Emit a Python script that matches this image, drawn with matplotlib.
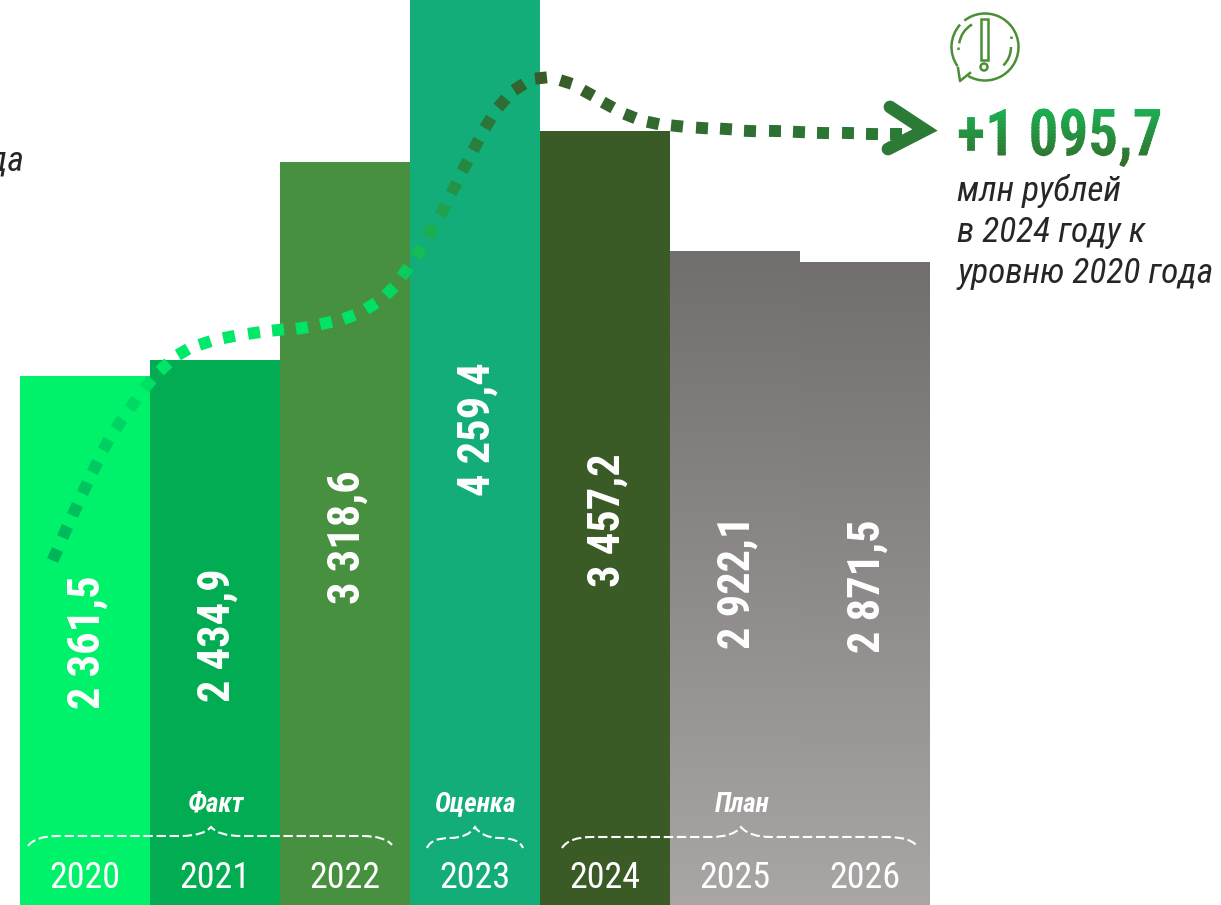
import numpy as np
import matplotlib
matplotlib.use("Agg")
import matplotlib.pyplot as plt
import matplotlib.patheffects as pe
from matplotlib.path import Path
from matplotlib.transforms import Bbox, Affine2D
from matplotlib.colors import LinearSegmentedColormap, to_rgb
from matplotlib.patches import Rectangle, Circle, Arc, PathPatch

FONT = 'Roboto Condensed'

years = ['2020', '2021', '2022', '2023', '2024', '2025', '2026']
values = [2361.5, 2434.9, 3318.6, 4259.4, 3457.2, 2922.1, 2871.5]
value_labels = ['2 361,5', '2 434,9', '3 318,6', '4 259,4', '3 457,2', '2 922,1', '2 871,5']
bar_colors = ['#00f26a', '#02ac52', '#47903f', '#12ad78', '#3a5a26', None, None]
gray_top, gray_bottom = '#726e6d', '#aaa6a5'

groups = ['Факт', 'Оценка', 'План']

# trend line (page pixels)
curve_x = [55, 65, 75, 85, 95, 106, 119, 133, 148, 164, 183, 205, 229, 254, 278, 302, 326, 349, 371, 390, 405, 419,
           431, 443, 454, 465, 476, 488, 502, 519, 541, 566, 588, 608, 630, 653, 677, 702, 726, 750, 775, 799, 823,
           848, 872, 896]
curve_y = [555, 532, 510, 488, 467, 445, 424, 404, 384, 367, 352, 343, 337, 333, 330, 328, 323, 317, 306, 291, 272,
           252, 231, 210, 188, 166, 145, 123, 103, 87, 78, 82, 93, 105, 116, 123, 126, 128, 129, 131, 131, 132, 133,
           133, 134, 134]
curve_stops = [(0.00, '#00b45c'), (0.17, '#00de66'), (0.22, '#00ea6a'), (0.41, '#00e066'), (0.48, '#18b450'),
               (0.54, '#249045'), (0.61, '#2e7238'), (0.65, '#35602c'), (0.67, '#3a5a26'), (0.74, '#34662e'),
               (1.00, '#2a7a36')]

W, H = 1221, 905
fig = plt.figure(figsize=(W / 100, H / 100), dpi=100, facecolor='white')
ax = fig.add_axes([0, 0, 1, 1])
scale = 0.2238
x = np.arange(len(values))
bars = ax.bar(x, values, width=1.0, color=[c or gray_bottom for c in bar_colors], linewidth=0)
cmap_gray = LinearSegmentedColormap.from_list('g', [gray_top, gray_bottom])
for i, b in enumerate(bars):
    if bar_colors[i] is None:
        im = ax.imshow(np.linspace(0, 1, 256).reshape(-1, 1), cmap=cmap_gray, aspect='auto',
                       extent=[x[i] - .5, x[i] + .5, 0, values[i]], zorder=b.get_zorder() + .1)
        im.set_clip_path(b)
ax.set_xlim(-85 / 130, (W - 85) / 130)
ax.set_ylim(0, H / scale)
ax.axis('off')

# overlay in page pixels for annotations
ov = fig.add_axes([0, 0, 1, 1], facecolor='none')
ov.set_xlim(0, W)
ov.set_ylim(H, 0)
ov.axis('off')

label_y = [642, 635, 537, 429, 520, 582, 586]
for i, lab in enumerate(value_labels):
    ov.text(88 + 130 * i, label_y[i], lab, rotation=90, ha='center', va='center', color='white',
            fontsize=32, fontweight='bold', family=FONT)
for i, y in enumerate(years):
    ov.text(84.5 + 130 * i, 878, y, ha='center', va='center', color='white', fontsize=26, family=FONT)

# dashed trend line with a colour gradient: each dash is a short tangent segment
cx, cy = np.array(curve_x, float), np.array(curve_y, float)
cm = LinearSegmentedColormap.from_list('c', curve_stops)
gx, gy = np.gradient(cx), np.gradient(cy)
n = np.hypot(gx, gy)
for i in range(len(cx)):
    ux, uy = gx[i] / n[i], gy[i] / n[i]
    ov.plot([cx[i] - 6 * ux, cx[i] + 6 * ux], [cy[i] - 6 * uy, cy[i] + 6 * uy], color=cm(i / (len(cx) - 1)),
            lw=8.6, solid_capstyle='butt')

# arrow head
ov.plot([890, 925, 888], [107, 130, 149], color='#2b7a36', lw=9.2, solid_capstyle='round', solid_joinstyle='miter')


class Gradient(pe.AbstractPathEffect):
    """Vertical colour gradient over one text, narrowed along its baseline."""

    def __init__(self, top, bottom, squeeze=1.0, n=40):
        super().__init__()
        self.top, self.bottom, self.n, self.squeeze = np.array(to_rgb(top)), np.array(to_rgb(bottom)), n, squeeze

    def draw_path(self, renderer, gc, tpath, affine, rgbFace=None):
        affine = Affine2D().scale(self.squeeze, 1) + affine
        ext = tpath.transformed(affine).get_extents()
        ys = np.linspace(ext.y0, ext.y1, self.n + 1)
        for k in range(self.n):
            g = renderer.new_gc()
            g.copy_properties(gc)
            g.set_clip_rectangle(Bbox([[0, ys[k]], [W, ys[k + 1] + .5]]))
            f = k / (self.n - 1)
            g.set_linewidth(0)
            renderer.draw_path(g, tpath, affine, tuple(self.bottom + (self.top - self.bottom) * f))
            g.restore()


big = ov.text(957, 138, '+1 095,7', ha='left', va='center', fontsize=47, fontweight='bold', family=FONT,
              color='#2a8a40')
big.set_path_effects([Gradient('#1cb052', '#346a2a', squeeze=0.905)])
for yy, line in zip([191, 232, 273], ['млн рублей', 'в 2024 году к', 'уровню 2020 года']):
    ov.text(957, yy, line, ha='left', va='center', fontsize=25.5, style='italic', color='#262626', family=FONT)
ov.text(24, 161, 'года', ha='right', va='center', fontsize=25.5, style='italic', color='#262626', family=FONT)

for cxp, lab in zip([216, 475, 742], groups):
    ov.text(cxp, 804, lab, ha='center', va='center', fontsize=19.5, style='italic', fontweight='bold',
            color='white', family=FONT)


def brace(x0, yl, xm, yp, x1, yr, yf):
    verts = [(x0, yl), (x0 + 7, yf), (x0 + 30, yf), (xm - 30, yf), (xm - 8, yf), (xm, yp), (xm + 8, yf), (xm + 30, yf),
             (x1 - 30, yf), (x1 - 7, yf), (x1, yr)]
    codes = [Path.MOVETO, Path.CURVE3, Path.CURVE3, Path.LINETO, Path.CURVE3, Path.CURVE3, Path.CURVE3, Path.CURVE3,
             Path.LINETO, Path.CURVE3, Path.CURVE3]
    ov.add_patch(PathPatch(Path(verts, codes), fc='none', ec='white', lw=1.5, ls=(0, (4.5, 1.8))))


brace(28, 846, 211, 827, 392, 845, 836)
brace(562, 848, 741, 827, 917, 846, 837)
# short brace
verts = [(427, 848), (431, 838), (450, 838), (468, 838), (475, 827), (482, 838), (500, 838), (519, 838), (523, 848)]
codes = [Path.MOVETO, Path.CURVE3, Path.CURVE3, Path.CURVE3, Path.CURVE3, Path.CURVE3, Path.CURVE3, Path.CURVE3, Path.CURVE3]
ov.add_patch(PathPatch(Path(verts, codes), fc='none', ec='white', lw=1.5, ls=(0, (4.5, 1.8))))

# warning icon
c = '#4a8f35'
lw = 1.8
for r, t1, t2 in [(33.5, -128, 120), (33.5, 145, 222), (26, 188, 240), (26, 0, 45)]:
    ov.add_patch(Arc((985, 47), 2 * r, 2 * r, theta1=t1, theta2=t2, ec=c, lw=lw))
ov.add_patch(Rectangle((981, 19), 7, 41, fc='none', ec=c, lw=lw))
ov.add_patch(Circle((984, 67), 3.5, fc='none', ec=c, lw=lw))
ov.plot([958, 960, 970], [68, 81, 73], color=c, lw=lw)
ov.plot([958, 958], [47, 52], color=c, lw=lw, ls=(0, (1, 1.5)))
ov.plot([1011, 1011], [36, 42], color=c, lw=lw, ls=(0, (1, 1.5)))

fig.savefig('out.png', dpi=100)
